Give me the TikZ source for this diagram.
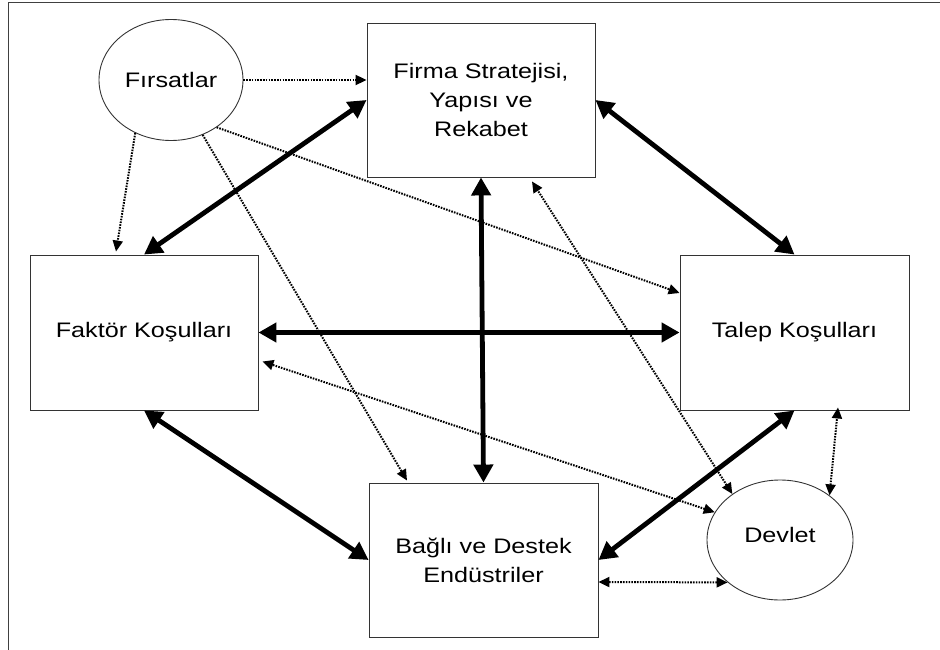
\documentclass[tikz,border=0pt]{standalone}
\usepackage{fontspec}
\setmainfont{Liberation Sans}[FakeStretch=1.2]
\usetikzlibrary{shapes.geometric,arrows.meta}
\begin{document}
\begin{tikzpicture}[x=1pt,y=-1pt,
  every node/.style={font=\fontsize{21}{29}\selectfont, align=center, inner sep=0pt},
  boxnode/.style={draw=black!80, line width=0.9pt, rectangle, minimum width=228pt, minimum height=154pt},
  ovalnode/.style={draw=black!80, line width=0.9pt, ellipse},
  strong/.style={line width=4.8pt, {Triangle[length=18pt,width=19pt]}-{Triangle[length=18pt,width=19pt]}},
  weakline/.style={line width=2pt, dash pattern=on 1.6pt off 1.2pt, black},
  weak/.style={weakline, -{Triangle[length=11pt,width=10pt]}},
  weakboth/.style={weakline, {Triangle[length=11pt,width=10pt]}-{Triangle[length=11pt,width=10pt]}}
]
% page extent and frame
\useasboundingbox (0,0) rectangle (940,650);
\draw[line width=1pt, black!75] (8,650) -- (8,3) -- (940,3);

% nodes
\node[ovalnode, minimum width=144pt, minimum height=121pt] (fir) at (171,80) {F\i rsatlar};
\node[boxnode] (firma) at (481,100) {Firma Stratejisi,\\Yap\i s\i{} ve\\Rekabet};
\node[boxnode, minimum height=155pt] (faktor) at (144,332.5) {Faktör Koşulları};
\node[boxnode, minimum width=229pt, minimum height=155pt] (talep) at (794.5,332.5) {Talep Koşulları};
\node[boxnode, minimum width=229pt] (bagli) at (483.5,560) {Bağl\i{} ve Destek\\Endüstriler};
\node[ovalnode, minimum width=146pt, minimum height=120pt] (devlet) at (780,540) {\raisebox{10pt}{Devlet}};

% strong two-way links between the four determinants
\draw[strong] (firma.west) -- (faktor.north);
\draw[strong] (firma.east) -- (talep.north);
\draw[strong] (firma.south) -- (bagli.north);
\draw[strong] (faktor.east) -- (talep.west);
\draw[strong] (faktor.south) -- (bagli.west);
\draw[strong] (bagli.east) -- (talep.south);

% chance (one-way)
\draw[weak] (fir.east) -- (firma.west |- fir.east);
\draw[weak] (fir.236) -- ([xshift=-28pt,yshift=3pt]faktor.north);
\draw[weak] (fir.314) -- (talep.west |- 0,293);
\draw[weak] (fir.300) -- ([yshift=2pt]bagli.north -| 407,0);

% government (two-way)
\draw[weakboth] (devlet.136) -- ([xshift=51pt,yshift=-4pt]firma.south);
\draw[weakboth] (devlet.157) -- ([xshift=4pt,yshift=-29pt]faktor.east);
\draw[weakboth] (devlet.42) -- ([xshift=43.5pt,yshift=3pt]talep.south);
\draw[weakboth] ([yshift=-22pt]bagli.east) -- (devlet.219);
\end{tikzpicture}
\end{document}
